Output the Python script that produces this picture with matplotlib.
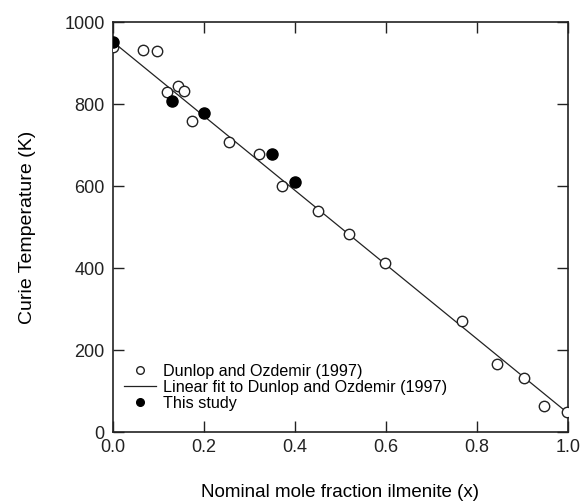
import numpy as np
import matplotlib
matplotlib.use("Agg")
import matplotlib.pyplot as plt
from matplotlib.lines import Line2D

plt.rcParams['font.family'] = ['Liberation Sans', 'DejaVu Sans']

# Dunlop and Ozdemir (1997) compilation
dunlop_x = [0.0, 0.066, 0.097, 0.119, 0.143, 0.156, 0.174, 0.255, 0.321, 0.371,
            0.451, 0.519, 0.598, 0.767, 0.844, 0.903, 0.947, 0.998]
dunlop_t = [940, 932, 929, 829, 844, 832, 759, 707, 678, 600,
            539, 483, 412, 271, 166, 132, 63, 49]

# This study
study_x = [0.0, 0.13, 0.2, 0.35, 0.4]
study_t = [951, 807, 778, 678, 610]

# Linear fit to the Dunlop and Ozdemir data
fit_x = [0.0, 1.0]
fit_t = [952, 46]

fig = plt.figure(figsize=(5.88, 5.03), dpi=100)
ax = fig.add_axes([0.192, 0.141, 0.774, 0.815])

ax.plot(fit_x, fit_t, color='#222222', lw=0.9, zorder=2)
ax.plot(dunlop_x, dunlop_t, 'o', ms=7.5, mfc='white', mec='#222222', mew=1.0, zorder=3)
ax.plot(study_x, study_t, 'o', ms=8, mfc='black', mec='black', zorder=4)

ax.set_xlim(0, 1.0)
ax.set_ylim(0, 1000)
ax.set_xticks([0.0, 0.2, 0.4, 0.6, 0.8, 1.0])
ax.set_xticklabels(['0.0', '0.2', '0.4', '0.6', '0.8', '1.0'])
ax.set_yticks([0, 200, 400, 600, 800, 1000])
ax.tick_params(direction='in', length=8, width=1.0, top=True, right=True,
               labelsize=13, colors='#222222')
ax.tick_params(axis='x', pad=5)
ax.tick_params(axis='y', pad=6)
for s in ax.spines.values():
    s.set_linewidth(1.2)
    s.set_color('#222222')

ax.set_xlabel('Nominal mole fraction ilmenite (x)', fontsize=13.5, labelpad=20)
ax.set_ylabel('Curie Temperature (K)', fontsize=14, labelpad=20)

handles = [
    Line2D([], [], ls='none', marker='o', ms=5.5, mfc='white', mec='#222222', mew=1.0),
    Line2D([], [], color='#222222', lw=0.9),
    Line2D([], [], ls='none', marker='o', ms=5.5, mfc='black', mec='black'),
]
labels = ['Dunlop and Ozdemir (1997)',
          'Linear fit to Dunlop and Ozdemir (1997)',
          'This study']
ax.legend(handles, labels, loc='lower left', bbox_to_anchor=(0.0, 0.025),
          frameon=False, fontsize=11.6, handlelength=2.0, handletextpad=0.4,
          labelspacing=0.05, borderaxespad=0.3)

fig.savefig('out.png', dpi=100)
